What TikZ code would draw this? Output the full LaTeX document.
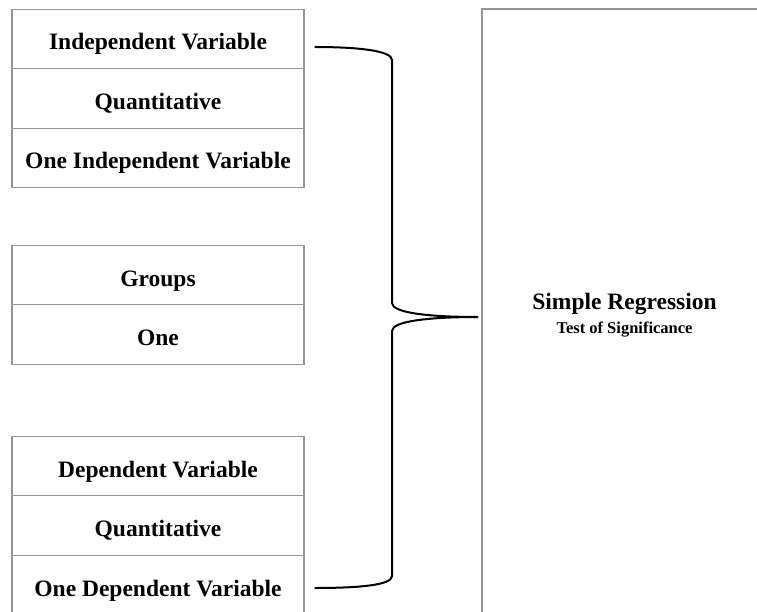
\documentclass[tikz,border=0pt]{standalone}
\usepackage{fontspec}
\setmainfont{Liberation Serif}
\begin{document}
\begin{tikzpicture}[x=1pt,y=-1pt,
  cell/.style={draw=boxgray, line width=1.1pt, minimum width=292pt, minimum height=59.5pt,
    inner sep=0pt, text height=22pt, text depth=0pt,
    font=\fontsize{23.5}{26}\selectfont\bfseries},
  brace/.style={draw=black, line width=2pt},
  boxline/.style={draw=boxgray, line width=1.1pt}]
\definecolor{boxgray}{RGB}{150,150,150}
\useasboundingbox (0,0) rectangle (757,612);
\clip (0,0) rectangle (757,612);
\fill[white] (0,0) rectangle (757,612);

% independent variable block
\node[cell] (iv)  at (158,39)  {Independent Variable};
\node[cell] (ivq) at (158,98.5) {Quantitative};
\node[cell] (ivn) at (158,158) {One Independent Variable};

% groups block
\node[cell] (gr)  at (158,275) {Groups};
\node[cell] (grn) at (158,334.5) {One};

% dependent variable block
\node[cell] (dv)  at (158,466) {Dependent Variable};
\node[cell] (dvq) at (158,525.5) {Quantitative};
\node[cell] (dvn) at (158,585) {One Dependent Variable};

% result panel
\draw[boxline] (482,9) rectangle (800,660);
\node[font=\fontsize{23.5}{26}\selectfont\bfseries, inner sep=0pt, anchor=base]
  (res) at (624.5,309) {Simple Regression};
\node[font=\fontsize{16.5}{18}\selectfont\bfseries, inner sep=0pt, anchor=base]
  (sig) at (624.5,333) {Test of Significance};
\coordinate (tip) at (478,317);

% curly brace joining the blocks to the panel
\coordinate (top) at ([xshift=10pt,yshift=-8pt]iv.east);
\coordinate (bot) at ([xshift=10pt,yshift=-3pt]dvn.east);
\draw[brace] (top) .. controls (360,47) and (392,51) .. (392,60)
  -- (392,303) .. controls (392,313) and (430,317) .. (tip);
\draw[brace] (tip) .. controls (430,317) and (392,321) .. (392,331)
  -- (392,576) .. controls (392,585) and (360,588) .. (bot);
\end{tikzpicture}
\end{document}
